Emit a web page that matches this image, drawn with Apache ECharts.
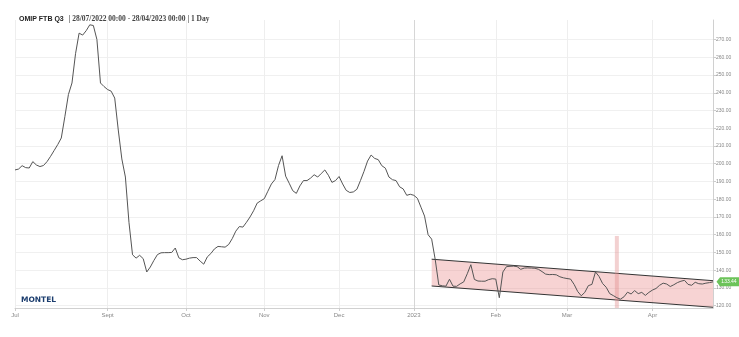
<!DOCTYPE html>
<html><head><meta charset="utf-8">
<script src="https://cdn.jsdelivr.net/npm/echarts@6/dist/echarts.min.js"></script>
<style>html,body{margin:0;padding:0;background:#fff}#c{width:739px;height:337px}</style>
</head><body><div id="c"></div>
<script>
// Daily prices (trading days), 28/07/2022 .. 28/04/2023
const prices = [
196.5,197,198.9,197.8,197.6,201.2,199.3,198.4,199,201.2,
204.2,207.5,210.8,214.5,226.5,239,245.5,262,273.6,272.5,
275,278.3,277.9,270,245.5,243.5,241.8,240.9,237,219,
202.7,192.5,167,148.7,146.8,148.4,146.5,139,141.8,145.5,
148.8,149.8,149.9,149.9,150,152.5,147,145.9,146.2,146.8,
147.1,147.1,145.1,143.4,147.5,149.4,152,153.4,153.2,153,
154.5,157.8,162,164.6,164.3,167,170,173.5,177.8,179.1,
180.3,184.5,188.6,191.1,199,204.5,193,189,184.8,183.3,
187.5,190.5,190.5,191.9,193.8,192.5,194.5,196.5,193.5,189.5,
190.5,192.8,188.6,185,183.8,184.1,185.6,190.5,195.7,201.5,
204.9,203,202.3,198.9,197.5,192.5,191,190.5,187,185.8,
182.2,182.8,182.2,180.5,175.5,170.5,160,157.5,146,131.7,
131.2,131,134.9,131,130.9,132.3,133.4,138,143.1,134.8,
133.9,133.8,133.8,134.7,135.2,135,124.5,139,142,142.2,
142.3,142,140.5,141.2,141.3,141.2,141.1,140.5,139.2,137.8,
137.5,137.6,137.4,136.3,135.7,135.3,135,132,128,125.6,
127.5,131.3,132,139,136.5,132.5,130.4,126.8,125.7,124.5,
123.7,125,127.6,126.6,128.5,126.8,127.5,125.8,127.5,128.8,
129.7,131.5,132.7,132.2,130.8,131.8,133,133.8,134.3,132,
131.5,133.2,132.4,132.2,132.7,133,133.44
];
const categories = prices.map((_, i) => String(i));
const tickIndex = [0, 26, 48, 70, 91, 112, 135, 155, 179];
const tickLabels = ['Jul', 'Sept', 'Oct', 'Nov', 'Dec', '2023', 'Feb', 'Mar', 'Apr'];
const yTicks = [120,130,140,150,160,170,180,190,200,210,220,230,240,250,260,270];
const yMin = 118.7, yMax = 281;
// Trend channel
const channelX = [117, 196];
const channelUpper = [146.2, 134.1];
const channelLower = [131.1, 119.1];
// Highlight bar
const highlightX = 169;
const highlightTop = 159.3;
const lastValue = 133.44;

const tickSet = new Set(tickIndex);
const showTick = (idx) => tickSet.has(idx);
const labelOf = (val) => { const k = tickIndex.indexOf(Number(val)); return k >= 0 ? tickLabels[k] : ''; };

const chart = echarts.init(document.getElementById('c'), null, {renderer: 'canvas'});
chart.setOption({
  animation: false,
  backgroundColor: '#fff',
  title: {
    text: '{b|OMIP FTB Q3} {s|| 28/07/2022 00:00 - 28/04/2023 00:00 | 1 Day}',
    left: 14, top: 5,
    textStyle: {
      rich: {
        b: {fontFamily: 'Liberation Sans', fontWeight: 'bold', fontSize: 7, color: '#222'},
        s: {fontFamily: 'Liberation Serif', fontSize: 7.5, color: '#444'}
      }
    }
  },
  graphic: [{
    type: 'text', left: 21, top: 296,
    style: {text: 'MONTEL', font: 'bold 7.5px "DejaVu Sans"', fill: '#1b3d6e'}
  }],
  grid: {left: 15, right: 26, top: 20, bottom: 29},
  xAxis: {
    type: 'category', data: categories, boundaryGap: false,
    axisLine: {lineStyle: {color: '#d0d0d0'}},
    axisTick: {show: true, interval: showTick, length: 3, lineStyle: {color: '#ccc'}},
    axisLabel: {interval: showTick, formatter: labelOf, fontSize: 6, color: '#888', fontFamily: 'Liberation Sans', margin: 4},
    splitLine: {show: true, interval: showTick,
      lineStyle: {color: ['#eeeeee','#eeeeee','#eeeeee','#eeeeee','#eeeeee','#d6d6d6','#eeeeee','#eeeeee','#eeeeee'], width: 1}}
  },
  yAxis: {
    type: 'value', position: 'right', min: yMin, max: yMax, scale: true,
    axisLine: {show: true, lineStyle: {color: '#d0d0d0'}},
    axisTick: {show: true, length: 3, customValues: yTicks, lineStyle: {color: '#ccc'}},
    axisLabel: {customValues: yTicks, formatter: (v) => v.toFixed(2), fontSize: 5, color: '#888', fontFamily: 'Liberation Sans', margin: 3},
    splitLine: {show: true, lineStyle: {color: '#f0f0f0'}}
  },
  series: [
    {
      type: 'custom', z: 1, clip: true,
      data: [[channelX[0], channelX[1], channelUpper[0], channelLower[0], channelUpper[1], channelLower[1]]],
      encode: {x: [0, 1], y: [2, 3, 4, 5]},
      renderItem: (params, api) => {
        const u0 = api.coord([api.value(0), api.value(2)]);
        const l0 = api.coord([api.value(0), api.value(3)]);
        const u1 = api.coord([api.value(1), api.value(4)]);
        const l1 = api.coord([api.value(1), api.value(5)]);
        return {type: 'group', children: [
          {type: 'polygon', shape: {points: [u0, u1, l1, l0]}, style: {fill: 'rgba(232,130,130,0.35)', stroke: 'none'}},
          {type: 'line', shape: {x1: u0[0], y1: u0[1], x2: u1[0], y2: u1[1]}, style: {stroke: '#333', lineWidth: 1}},
          {type: 'line', shape: {x1: l0[0], y1: l0[1], x2: l1[0], y2: l1[1]}, style: {stroke: '#333', lineWidth: 1}}
        ]};
      }
    },
    {
      type: 'custom', z: 2, clip: true,
      data: [[highlightX, highlightTop]],
      renderItem: (params, api) => {
        const top = api.coord([api.value(0), api.value(1)]);
        const bot = api.coord([api.value(0), yMin]);
        return {type: 'rect', shape: {x: top[0] - 2, y: top[1], width: 4, height: bot[1] - top[1]},
          style: {fill: 'rgba(225,140,140,0.4)'}};
      }
    },
    {
      type: 'line', z: 3, data: prices, showSymbol: false, symbol: 'none',
      lineStyle: {color: '#555', width: 1},
      markPoint: {
        symbol: 'path://M0,5 L4,0 L26,0 L26,10 L4,10 Z',
        symbolSize: [23, 9], symbolOffset: [15, 0],
        itemStyle: {color: '#6cc35a'},
        label: {show: true, color: '#fff', fontSize: 5, fontFamily: 'Liberation Sans', offset: [1, 0], formatter: () => lastValue.toFixed(2)},
        data: [{coord: [String(prices.length - 1), lastValue]}]
      }
    }
  ]
});
</script></body></html>
